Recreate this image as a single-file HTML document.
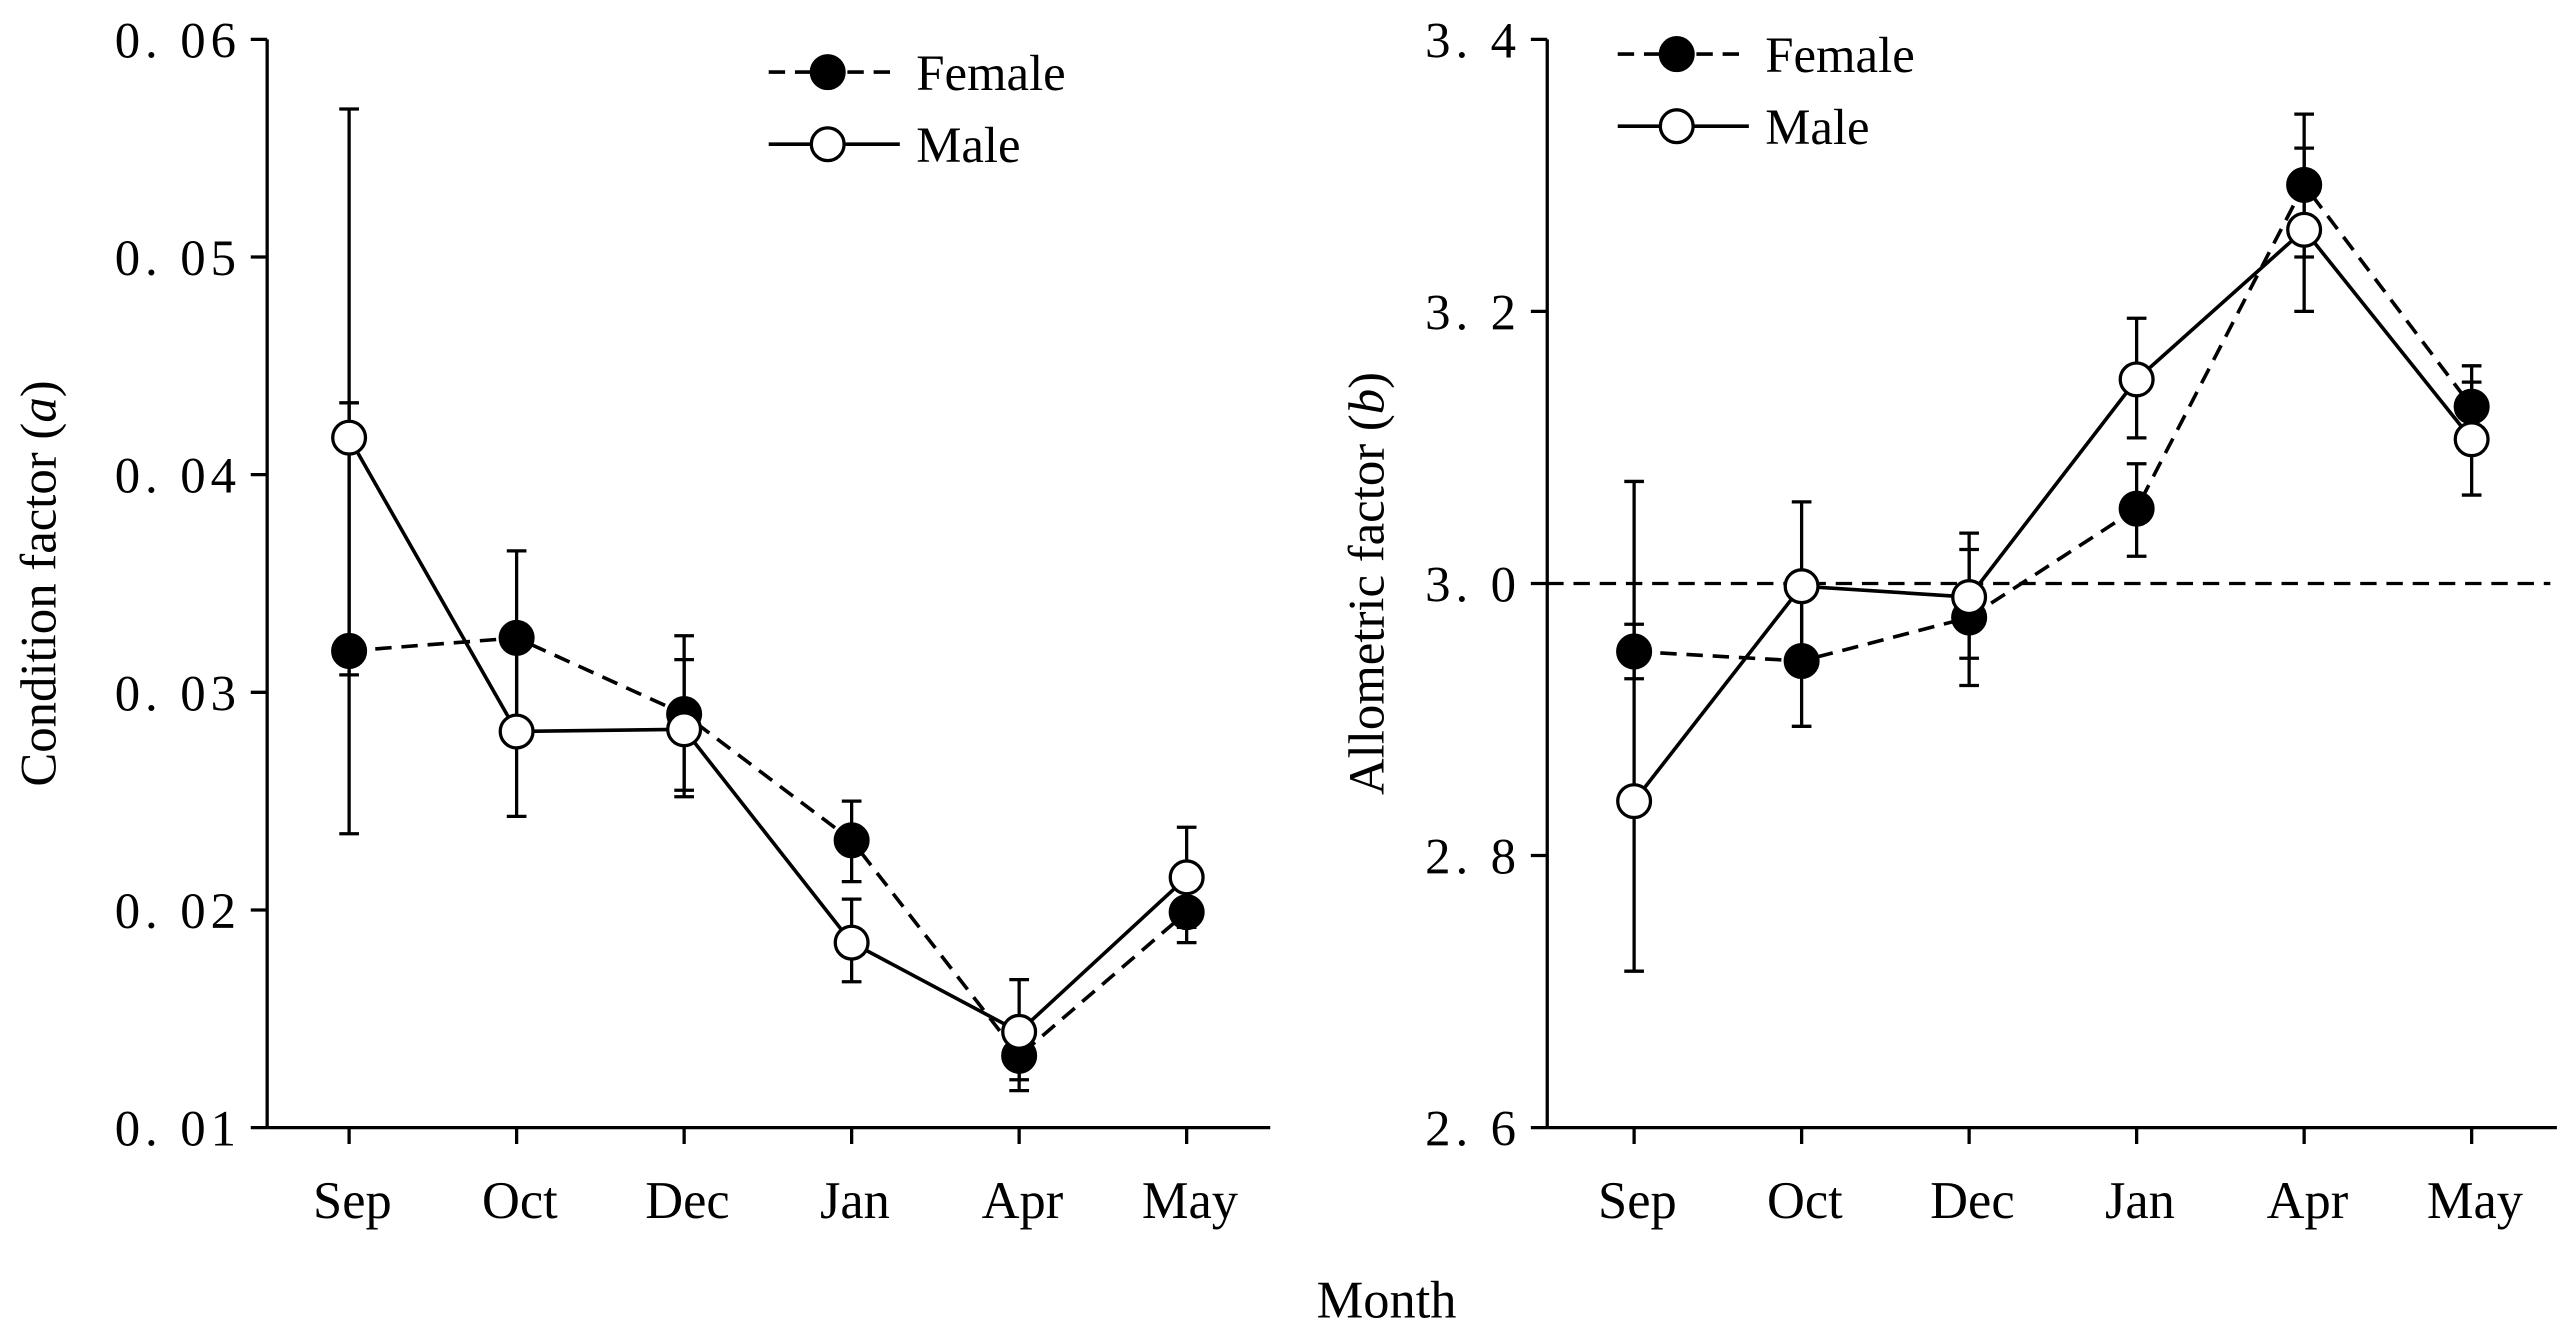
<!DOCTYPE html>
<html><head><meta charset="utf-8"><style>
html,body{margin:0;padding:0;background:#fff;}
svg{display:block;font-family:"Liberation Serif","Noto Serif CJK SC",serif;}
</style></head><body>
<svg id="chart" width="2570" height="1332" viewBox="0 0 1568 812.7" preserveAspectRatio="none" xmlns="http://www.w3.org/2000/svg"></svg>
<script>
const categories=["Sep","Oct","Dec","Jan","Apr","May"];
const condFemale=[0.0319,0.0325,0.0290,0.0232,0.0133,0.0199];
const condFemaleLo=[0.0308,0.0285,0.0255,0.0213,0.0117,0.0185];
const condFemaleHi=[0.0433,0.0365,0.0326,0.0250,0.0150,0.0213];
const condMale=[0.0417,0.0282,0.0283,0.0185,0.0144,0.0215];
const condMaleLo=[0.0235,0.0243,0.0252,0.0167,0.0122,0.0192];
const condMaleHi=[0.0568,0.0321,0.0315,0.0205,0.0168,0.0238];
const alloFemale=[2.95,2.943,2.975,3.055,3.293,3.13];
const alloFemaleLo=[2.93,2.895,2.925,3.02,3.24,3.10];
const alloFemaleHi=[2.97,2.99,3.025,3.088,3.345,3.16];
const alloMale=[2.84,2.998,2.99,3.15,3.26,3.106];
const alloMaleLo=[2.715,2.94,2.945,3.107,3.20,3.065];
const alloMaleHi=[3.075,3.06,3.037,3.195,3.32,3.148];
const condTicks=[0.01,0.02,0.03,0.04,0.05,0.06];
const condTickLabels=["0. 01","0. 02","0. 03","0. 04","0. 05","0. 06"];
const alloTicks=[2.6,2.8,3.0,3.2,3.4];
const alloTickLabels=["2. 6","2. 8","3. 0","3. 2","3. 4"];

const svg=document.getElementById('chart');
const NS="http://www.w3.org/2000/svg";
function el(tag,attrs,parent){const e=document.createElementNS(NS,tag);for(const k in attrs)e.setAttribute(k,attrs[k]);(parent||svg).appendChild(e);return e;}

function panel(o){
  const g=el('g',{});
  
  
  const y=v=>o.y0+(v-o.vmin)/(o.vmax-o.vmin)*(o.y1-o.y0);
  const x=i=>o.xs0+i*o.dx;
  const ax=el('line',{x1:o.ax,y1:o.y1,x2:o.ax,y2:o.y0,stroke:'#000','stroke-width':2},g);
  
  const bx=el('line',{x1:o.ax,y1:o.y0,x2:o.axEnd,y2:o.y0,stroke:'#000','stroke-width':2},g);
  
  o.ticks.forEach((t,i)=>{
    el('line',{x1:o.ax-10,y1:y(t),x2:o.ax,y2:y(t),stroke:'#000','stroke-width':2},g);
    const tx=el('text',{x:o.ax-16,y:y(t)+11,'text-anchor':'end','font-size':31,'letter-spacing':3},g);
    tx.textContent=o.labels[i];
    
  });
  categories.forEach((c,i)=>{
    el('line',{x1:x(i),y1:o.y0,x2:x(i),y2:o.y0+10,stroke:'#000','stroke-width':2},g);
    const tx=el('text',{x:x(i)+2,y:743,'text-anchor':'middle','font-size':32},g);
    tx.textContent=c;
    
  });
  if(o.ref!==undefined){
    const r=el('line',{x1:o.ax,y1:y(o.ref),x2:o.axEnd-4,y2:y(o.ref),stroke:'#000','stroke-width':2,'stroke-dasharray':'10,6'},g);
    
  }
  const series=[[o.f,o.fLo,o.fHi,'#000','10,6','female'],[o.m,o.mLo,o.mHi,'#fff',null,'male']];
  series.forEach(s=>{
    s[0].forEach((v,i)=>{
      el('line',{x1:x(i),y1:y(s[1][i]),x2:x(i),y2:y(s[2][i]),stroke:'#000','stroke-width':2},g);
      el('line',{x1:x(i)-6,y1:y(s[1][i]),x2:x(i)+6,y2:y(s[1][i]),stroke:'#000','stroke-width':2},g);
      el('line',{x1:x(i)-6,y1:y(s[2][i]),x2:x(i)+6,y2:y(s[2][i]),stroke:'#000','stroke-width':2},g);
    });
  });
  series.forEach(s=>{
    const p=el('polyline',{points:s[0].map((v,i)=>x(i)+','+y(v)).join(' '),fill:'none',stroke:'#000','stroke-width':2.2},g);
    if(s[4])p.setAttribute('stroke-dasharray',s[4]);
    
  });
  series.forEach(s=>{
    s[0].forEach((v,i)=>{
      const c=el('circle',{cx:x(i),cy:y(v),r:10,fill:s[3],stroke:'#000','stroke-width':2},g);
      
    });
  });
  [[o.lgY,'#000','10,6','Female'],[o.lgY+44,'#fff',null,'Male']].forEach(l=>{
    const ln=el('line',{x1:o.lgX,y1:l[0],x2:o.lgX+80,y2:l[0],stroke:'#000','stroke-width':2.2},g);
    if(l[2])ln.setAttribute('stroke-dasharray',l[2]);
    el('circle',{cx:o.lgX+36,cy:l[0],r:10,fill:l[1],stroke:'#000','stroke-width':2},g);
    const t=el('text',{x:o.lgX+90,y:l[0]+11,'font-size':31},g);
    t.textContent=l[3];
    
  });
  const yt=el('text',{x:0,y:0,'font-size':31,'text-anchor':'middle',transform:`translate(${o.ytX},356) rotate(-90)`},g);
  yt.innerHTML=o.ytitle;
  
}
panel({name:'condition-panel',ax:163,axEnd:775,y0:688,y1:24,vmin:0.01,vmax:0.06,xs0:213,dx:102.2,
  ticks:condTicks,labels:condTickLabels,f:condFemale,fLo:condFemaleLo,fHi:condFemaleHi,m:condMale,mLo:condMaleLo,mHi:condMaleHi,
  lgX:469,lgY:44,ytX:34,ytitle:'Condition factor (<tspan font-style="italic">a</tspan>)'});
panel({name:'allometric-panel',ax:944,axEnd:1560,y0:688,y1:24,vmin:2.6,vmax:3.4,xs0:997,dx:102.2,
  ticks:alloTicks,labels:alloTickLabels,ref:3.0,f:alloFemale,fLo:alloFemaleLo,fHi:alloFemaleHi,m:alloMale,mLo:alloMaleLo,mHi:alloMaleHi,
  lgX:987,lgY:33,ytX:844,ytitle:'Allometric factor (<tspan font-style="italic">b</tspan>)'});
const xt=el('text',{x:846,y:804,'font-size':32,'text-anchor':'middle'});
xt.textContent='Month';


</script>
</body></html>
